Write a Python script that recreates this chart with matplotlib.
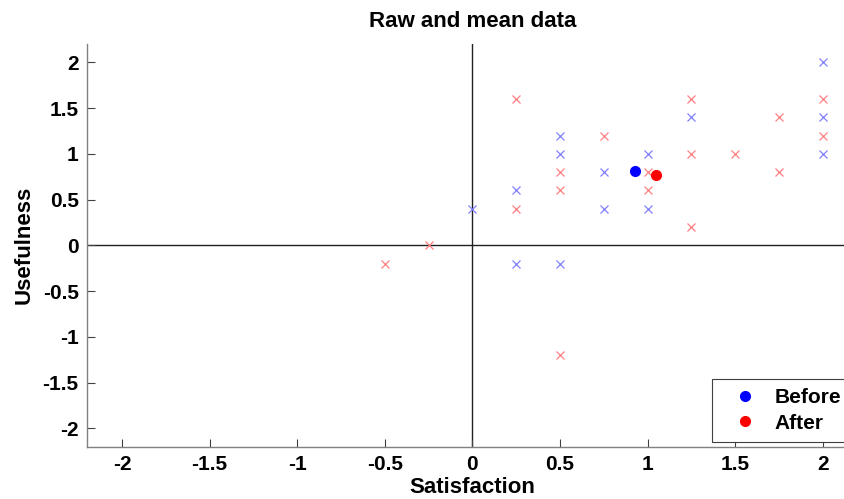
import matplotlib
matplotlib.use("Agg")
import matplotlib.pyplot as plt

plt.rcParams["font.family"] = ["Liberation Sans", "DejaVu Sans"]
plt.rcParams["font.weight"] = "bold"

# raw responses (satisfaction, usefulness)
before_x = [2.0, 1.25, 2.0, 0.5, 0.5, 1.0, 2.0, 0.75, 0.25, 0.0, 0.75, 1.0, 0.25, 0.5]
before_y = [2.0, 1.4, 1.4, 1.2, 1.0, 1.0, 1.0, 0.8, 0.6, 0.4, 0.4, 0.4, -0.2, -0.2]

after_x = [0.25, 1.25, 2.0, 1.75, 0.75, 2.0, 1.25, 1.5, 0.5, 1.0, 1.75,
           0.5, 1.0, 0.25, 1.25, -0.25, -0.5, 0.5]
after_y = [1.6, 1.6, 1.6, 1.4, 1.2, 1.2, 1.0, 1.0, 0.8, 0.8, 0.8,
           0.6, 0.6, 0.4, 0.2, 0.0, -0.2, -1.2]

# group means
mean_before = (0.93, 0.81)
mean_after = (1.05, 0.77)

ticks = [-2, -1.5, -1, -0.5, 0, 0.5, 1, 1.5, 2]
tick_labels = ["-2", "-1.5", "-1", "-0.5", "0", "0.5", "1", "1.5", "2"]

W, H = 844, 499
fig = plt.figure(figsize=(W / 100, H / 100), dpi=100)
ax = fig.add_axes([87 / W, 1 - 446.7 / H, (857.7 - 87) / W, (446.7 - 44) / H])

ax.axhline(0, color="#202020", linewidth=1.0, zorder=1)
ax.axvline(0, color="#202020", linewidth=1.0, zorder=1)

ax.plot(before_x, before_y, "x", color="#8080ff", markersize=6, markeredgewidth=0.9, zorder=2)
ax.plot(after_x, after_y, "x", color="#ff8080", markersize=6, markeredgewidth=0.9, zorder=2)

h1, = ax.plot(*mean_before, "o", color="#0000ff", markersize=7, label="Before", zorder=3)
h2, = ax.plot(*mean_after, "o", color="#ff0000", markersize=7, label="After", zorder=3)

ax.set_xlim(-2.2, 2.2)
ax.set_ylim(-2.2, 2.2)
ax.set_xticks(ticks)
ax.set_xticklabels(tick_labels)
ax.set_yticks(ticks)
ax.set_yticklabels(tick_labels)
ax.tick_params(direction="in", length=6, width=0.8, color="#404040",
               labelsize=15, pad=6)

for side in ["top", "right"]:
    ax.spines[side].set_visible(False)
for side in ["left", "bottom"]:
    ax.spines[side].set_color("#808080")
    ax.spines[side].set_linewidth(1.0)

ax.set_title("Raw and mean data", fontsize=16, fontweight="bold", pad=12)
ax.set_xlabel("Satisfaction", fontsize=16, fontweight="bold", labelpad=2)
ax.set_ylabel("Usefulness", fontsize=16, fontweight="bold", labelpad=6)

leg = fig.legend(handles=[h1, h2], loc="upper left",
                 bbox_to_anchor=(712 / W, 1 - 379 / H),
                 bbox_transform=fig.transFigure,
                 prop={"size": 15, "weight": "bold"},
                 fancybox=False, framealpha=1, edgecolor="#404040",
                 borderaxespad=0, borderpad=0.45, handletextpad=0.3,
                 labelspacing=0.3, handlelength=2.27, markerscale=1.0)
leg.get_frame().set_linewidth(0.8)

fig.savefig("out.png", dpi=100)
